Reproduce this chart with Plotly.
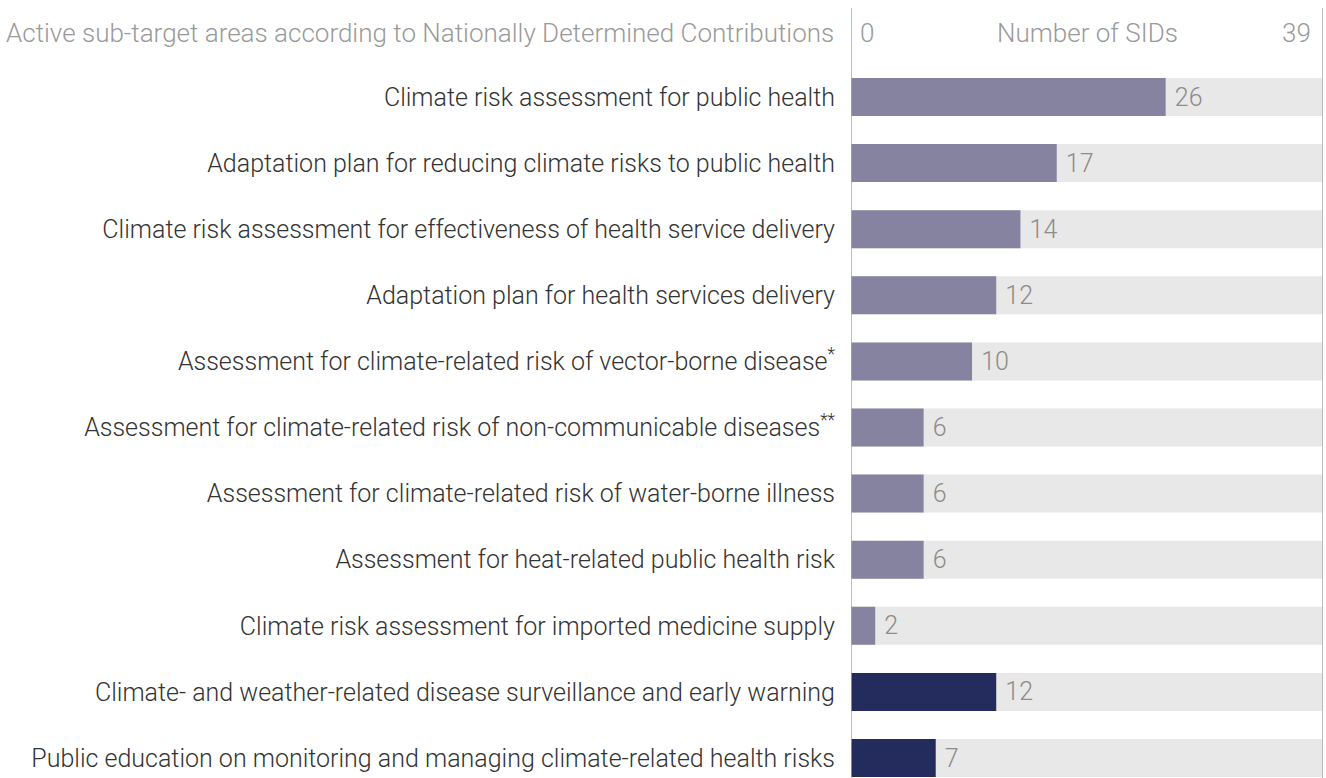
import plotly.graph_objects as go

# Sub-target areas and number of SIDs addressing each
areas = [
    "Climate risk assessment for public health",
    "Adaptation plan for reducing climate risks to public health",
    "Climate risk assessment for effectiveness of health service delivery",
    "Adaptation plan for health services delivery",
    "Assessment for climate-related risk of vector-borne disease<sup>*</sup>",
    "Assessment for climate-related risk of non-communicable diseases<sup>**</sup>",
    "Assessment for climate-related risk of water-borne illness",
    "Assessment for heat-related public health risk",
    "Climate risk assessment for imported medicine supply",
    "Climate- and weather-related disease surveillance and early warning",
    "Public education on monitoring and managing climate-related health risks",
]
counts = [26, 17, 14, 12, 10, 6, 6, 6, 2, 12, 7]
group = ["assess"] * 9 + ["action"] * 2
total_sids = 39

colors = {"assess": "#8683a1", "action": "#232c5c"}
bar_colors = [colors[g] for g in group]
positions = list(range(len(areas)))

FONT = "Roboto"
SIZE = 25
W, H = 1326, 778

fig = go.Figure()

# Full-width track behind each bar (total SIDs)
fig.add_trace(go.Bar(
    y=positions, x=[total_sids] * len(areas), orientation="h",
    marker=dict(color="#e8e8e8", line=dict(width=0)),
    width=0.575, hoverinfo="skip", showlegend=False,
))

fig.add_trace(go.Bar(
    y=positions, x=counts, orientation="h",
    marker=dict(color=bar_colors, line=dict(width=0)),
    width=0.575,
    text=[str(c) for c in counts], texttemplate=" %{text}",
    textposition="outside", cliponaxis=False,
    textfont=dict(family=FONT, size=SIZE, color="#8c8c8c", weight=300),
    showlegend=False,
))

# Header row
hdr_font = dict(family=FONT, size=26, color="#9a9a9a", weight=300)
hdr_y = 1 - 33 / H
fig.add_annotation(x=0, y=hdr_y, xref="paper", yref="paper",
                   text="Active sub-target areas according to Nationally Determined Contributions",
                   xanchor="right", yanchor="middle", xshift=-15, showarrow=False,
                   font=hdr_font)
fig.add_annotation(x=0, y=hdr_y, xref="x", yref="paper", text="0",
                   xanchor="left", yanchor="middle", xshift=7, showarrow=False,
                   font=hdr_font)
fig.add_annotation(x=total_sids / 2, y=hdr_y, xref="x", yref="paper",
                   text="Number of SIDs", xanchor="center", yanchor="middle",
                   showarrow=False, font=hdr_font)
fig.add_annotation(x=total_sids, y=hdr_y, xref="x", yref="paper",
                   text=str(total_sids), xanchor="right", yanchor="middle",
                   xshift=-10, showarrow=False, font=hdr_font)

# Vertical rules at 0 and at the total
for xv in (0, total_sids):
    fig.add_shape(type="line", xref="x", yref="paper", x0=xv, x1=xv,
                  y0=0, y1=1 - 8 / H, line=dict(color="#a8a8a8", width=1.5),
                  layer="above")

row0, step = 97, 66.1
fig.update_layout(
    width=W, height=H,
    margin=dict(l=851, r=3, t=0, b=0),
    paper_bgcolor="white", plot_bgcolor="white",
    barmode="overlay",
    xaxis=dict(range=[0, total_sids], visible=False, fixedrange=True),
    yaxis=dict(
        range=[(H - row0) / step, -row0 / step],
        tickvals=positions, ticktext=areas,
        showgrid=False, zeroline=False, showline=False,
        ticks="", ticklabelstandoff=15,
        tickfont=dict(family=FONT, size=SIZE, color="#333333", weight=300),
    ),
    font=dict(family=FONT),
)

fig.write_html("out.html")
